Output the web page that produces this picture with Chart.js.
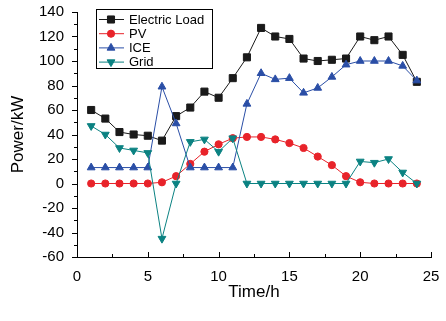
<!DOCTYPE html>
<html>
<head>
<meta charset="utf-8">
<script src="https://cdn.jsdelivr.net/npm/chart.js@4.4.1/dist/chart.umd.min.js"></script>
<style>
  html, body { margin: 0; padding: 0; background: #fff; }
  #wrap { width: 446px; height: 321px; }
</style>
</head>
<body>
<div id="wrap"><canvas id="power-chart" width="446" height="321"></canvas></div>
<script>
const hours = [1, 2, 3, 4, 5, 6, 7, 8, 9, 10, 11, 12, 13, 14, 15, 16, 17, 18, 19, 20, 21, 22, 23, 24];

const loadKw = [60, 53, 42, 40, 39, 35, 55, 62, 75, 70, 86, 103, 127, 120, 118, 102, 100, 101, 102, 120, 117, 120, 105, 83];
const pvKw = [0, 0, 0, 0, 0, 1, 6, 16, 26, 32, 37, 38, 38, 36, 33, 29, 22, 15, 6, 1, 0, 0, 0, 0];
const iceKw = [13, 13, 13, 13, 13, 79, 49, 13, 13, 13, 13, 65, 90, 85, 86, 74, 78, 87, 97, 100, 100, 100, 96, 84];
const gridKw = [47, 40, 29, 27, 25, -45, 0, 34, 36, 26, 37, 0, 0, 0, 0, 0, 0, 0, 0, 18, 17, 20, 9, 0];

const seriesNames = ["Electric Load", "PV", "ICE", "Grid"];

const FONT = "'Liberation Sans', Arial, sans-serif";

function pts(vals) {
  return hours.map((h, i) => ({ x: h, y: vals[i] }));
}

function series(name, vals, color, style, radius, rot, order) {
  return {
    label: name,
    data: pts(vals),
    borderColor: color,
    backgroundColor: color,
    borderWidth: 1,
    pointStyle: style,
    pointRadius: radius,
    pointRotation: rot,
    pointBorderWidth: 1,
    pointBorderColor: color,
    pointBackgroundColor: color,
    tension: 0,
    order: order
  };
}

// minor/major tick marks: y ticks point out, x ticks point in
const tickMarks = {
  id: 'tickMarks',
  afterDraw(chart) {
    const ctx = chart.ctx;
    const xs = chart.scales.x, ys = chart.scales.y;
    const left = chart.chartArea.left, bottom = chart.chartArea.bottom;
    ctx.save();
    ctx.strokeStyle = '#000';
    ctx.lineWidth = 1;
    ctx.beginPath();
    for (let v = -60; v <= 140; v += 10) {
      const y = Math.round(ys.getPixelForValue(v)) + 0.5;
      const len = v % 20 === 0 ? 5 : 3;
      ctx.moveTo(left - len, y);
      ctx.lineTo(left, y);
    }
    for (let v = 0; v <= 25; v += 2.5) {
      const x = Math.round(xs.getPixelForValue(v)) + 0.5;
      const len = v % 5 === 0 ? 5 : 3;
      ctx.moveTo(x, bottom);
      ctx.lineTo(x, bottom - len);
    }
    ctx.stroke();
    ctx.restore();
  }
};

// boxed legend sitting inside the plot, line + marker per series
const boxLegend = {
  id: 'boxLegend',
  afterDraw(chart) {
    const ctx = chart.ctx;
    const bx = 96, by = 9, bw = 116, bh = 59;
    ctx.save();
    ctx.fillStyle = '#fff';
    ctx.fillRect(bx, by, bw, bh);
    ctx.strokeStyle = '#000';
    ctx.lineWidth = 1;
    ctx.strokeRect(bx + 0.5, by + 0.5, bw, bh);
    ctx.font = '13px ' + FONT;
    ctx.textBaseline = 'middle';
    chart.data.datasets.forEach((ds, i) => {
      const y = by + 10.5 + i * 14.2;
      ctx.strokeStyle = ds.borderColor;
      ctx.lineWidth = 1;
      ctx.beginPath();
      ctx.moveTo(bx + 3, y);
      ctx.lineTo(bx + 28, y);
      ctx.stroke();
      ctx.fillStyle = ds.borderColor;
      Chart.helpers.drawPoint(ctx, {
        pointStyle: ds.pointStyle,
        radius: ds.pointRadius,
        rotation: ds.pointRotation,
        borderWidth: 1
      }, bx + 15, y);
      ctx.fillStyle = '#000';
      ctx.fillText(ds.label, bx + 33, y + 0.5);
    });
    ctx.restore();
  }
};

const chartData = {
  datasets: [
    series(seriesNames[0], loadKw, '#1a1a1a', 'rect', 5, 0, 3),
    series(seriesNames[1], pvKw, '#e8232a', 'circle', 3.6, 0, 2),
    series(seriesNames[2], iceKw, '#2a4ea6', 'triangle', 4.5, 0, 1),
    series(seriesNames[3], gridKw, '#0b8282', 'triangle', 4.5, 180, 0)
  ]
};

const chartOptions = {
  responsive: false,
  animation: false,
  layout: { padding: { top: 12, right: 15, left: 0, bottom: 0 } },
  scales: {
    x: {
      type: 'linear',
      min: 0,
      max: 25,
      afterFit(scale) {
        scale.height = 64;
        scale.paddingLeft = 0;
        scale.paddingRight = 0;
      },
      grid: { display: false, drawTicks: false },
      border: { display: true, color: '#000', width: 1 },
      ticks: { stepSize: 5, padding: 11, color: '#000', font: { family: FONT, size: 15 } },
      title: { display: true, text: 'Time/h', color: '#000', padding: { top: 0, bottom: 18 }, font: { family: FONT, size: 17 } }
    },
    y: {
      min: -60,
      max: 140,
      afterFit(scale) {
        scale.width = 77;
        scale.paddingTop = 0;
        scale.paddingBottom = 0;
      },
      grid: { display: false, drawTicks: false },
      border: { display: true, color: '#000', width: 1 },
      ticks: { stepSize: 20, padding: 13, color: '#000', font: { family: FONT, size: 15 } },
      title: { display: true, text: 'Power/kW', color: '#000', padding: { top: 8, bottom: 0 }, font: { family: FONT, size: 17 } }
    }
  },
  plugins: {
    legend: { display: false },
    tooltip: { enabled: false }
  }
};

const powerChart = new Chart(document.getElementById('power-chart'), {
  type: 'line',
  data: chartData,
  options: chartOptions,
  plugins: [tickMarks, boxLegend]
});
</script>
</body>
</html>
